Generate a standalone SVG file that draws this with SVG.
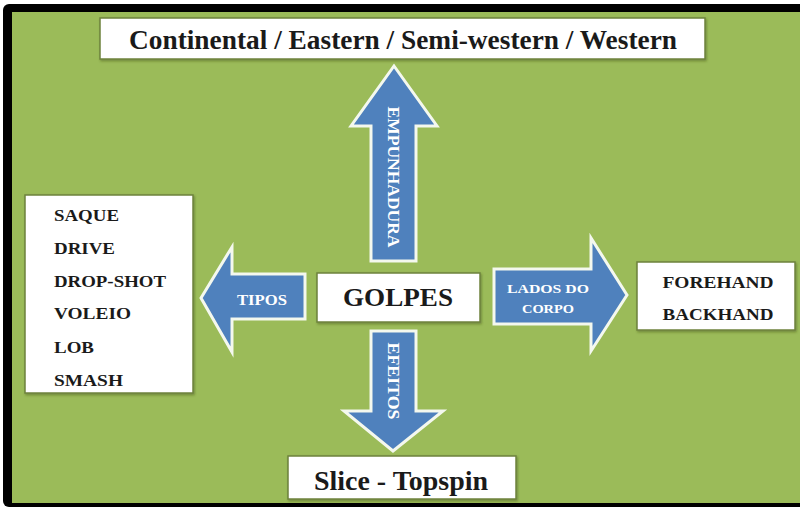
<svg xmlns="http://www.w3.org/2000/svg" width="800" height="507" viewBox="0 0 800 507">
  <style>
    .box { fill: #ffffff; stroke: #6e823c; stroke-width: 1.5; }
    .arrow { fill: #4f81bd; stroke: #f4f8ee; stroke-width: 3; stroke-linejoin: miter; }
    .t { font-family: "Liberation Serif", "Times New Roman", serif; font-weight: bold; fill: #1a1a1a; }
    .lbl { font-family: "Liberation Serif", "Times New Roman", serif; font-weight: bold; fill: #ffffff; }
  </style>
  <defs>
    <filter id="shadow" x="-5%" y="-5%" width="110%" height="120%">
      <feDropShadow dx="1" dy="1.5" stdDeviation="1" flood-color="#3d4a1f" flood-opacity="0.45"/>
    </filter>
  </defs>

  <!-- frame and background -->
  <rect x="3" y="4" width="830" height="503" rx="6" fill="#000000"/>
  <rect x="12" y="12" width="800" height="491" fill="#9bbb59"/>

  <!-- connectors: block arrows -->
  <g id="connectors">
    <g id="arrow-empunhadura">
      <polygon class="arrow" points="394,66 437,126 416,126 416,261 371,261 371,126 351,126"/>
      <text class="lbl" font-size="17" text-anchor="middle" transform="translate(388,177) rotate(90)" textLength="141" lengthAdjust="spacingAndGlyphs">EMPUNHADURA</text>
    </g>
    <g id="arrow-tipos">
      <polygon class="arrow" points="201,298 232,247 232,274 305,274 305,319 232,319 232,352"/>
      <text class="lbl" x="262" y="305" font-size="15" text-anchor="middle" textLength="50" lengthAdjust="spacingAndGlyphs">TIPOS</text>
    </g>
    <g id="arrow-lados">
      <polygon class="arrow" points="627,295 591,238 591,269 494,269 494,324 591,324 591,351"/>
      <text class="lbl" x="548" y="293" font-size="13" text-anchor="middle" textLength="82" lengthAdjust="spacingAndGlyphs">LADOS DO</text>
      <text class="lbl" x="548" y="313" font-size="13" text-anchor="middle" textLength="52" lengthAdjust="spacingAndGlyphs">CORPO</text>
    </g>
    <g id="arrow-efeitos">
      <polygon class="arrow" points="371,331 416,331 416,411 443,411 393,451 344,411 371,411"/>
      <text class="lbl" font-size="17" text-anchor="middle" transform="translate(388,381) rotate(90)" textLength="77" lengthAdjust="spacingAndGlyphs">EFEITOS</text>
    </g>
  </g>

  <!-- grips -->
  <g id="node-empunhaduras">
    <rect class="box" x="100" y="18" width="605" height="41" filter="url(#shadow)"/>
    <text class="t" x="403" y="49" font-size="28" text-anchor="middle" textLength="548" lengthAdjust="spacingAndGlyphs">Continental / Eastern / Semi-western / Western</text>
  </g>

  <!-- stroke types -->
  <g id="node-tipos">
    <rect class="box" x="25" y="195" width="168" height="198" filter="url(#shadow)"/>
    <g class="t" font-size="17">
      <text x="54" y="221" textLength="65" lengthAdjust="spacingAndGlyphs">SAQUE</text>
      <text x="54" y="254" textLength="61" lengthAdjust="spacingAndGlyphs">DRIVE</text>
      <text x="54" y="287" textLength="112" lengthAdjust="spacingAndGlyphs">DROP-SHOT</text>
      <text x="54" y="319" textLength="77" lengthAdjust="spacingAndGlyphs">VOLEIO</text>
      <text x="54" y="353" textLength="40" lengthAdjust="spacingAndGlyphs">LOB</text>
      <text x="54" y="386" textLength="69" lengthAdjust="spacingAndGlyphs">SMASH</text>
    </g>
  </g>

  <!-- centre -->
  <g id="node-golpes">
    <rect class="box" x="317" y="273" width="163" height="49" filter="url(#shadow)"/>
    <text class="t" x="398" y="306" font-size="26" text-anchor="middle" textLength="110" lengthAdjust="spacingAndGlyphs">GOLPES</text>
  </g>

  <!-- body sides -->
  <g id="node-lados">
    <rect class="box" x="637" y="262" width="158" height="68" filter="url(#shadow)"/>
    <text class="t" x="718" y="288" font-size="17" text-anchor="middle" textLength="111" lengthAdjust="spacingAndGlyphs">FOREHAND</text>
    <text class="t" x="718" y="320" font-size="17" text-anchor="middle" textLength="111" lengthAdjust="spacingAndGlyphs">BACKHAND</text>
  </g>

  <!-- spin -->
  <g id="node-efeitos">
    <rect class="box" x="288" y="456" width="228" height="43" filter="url(#shadow)"/>
    <text class="t" x="401" y="490" font-size="28" text-anchor="middle" textLength="174" lengthAdjust="spacingAndGlyphs">Slice - Topspin</text>
  </g>
</svg>
